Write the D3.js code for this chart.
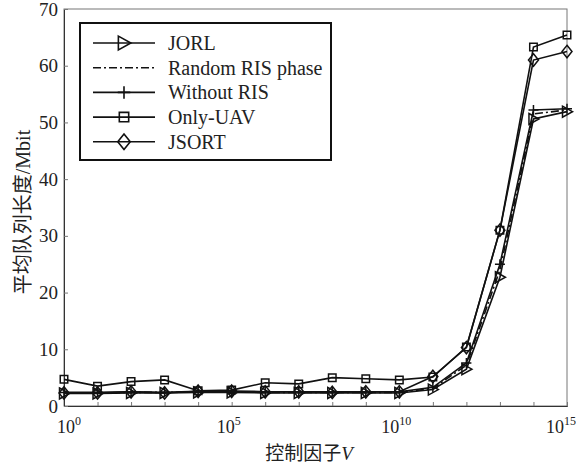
<!DOCTYPE html>
<html>
<head>
<meta charset="utf-8">
<script src="https://cdn.jsdelivr.net/npm/d3@7"></script>
<style>
  body { margin: 0; background: #fff; }
  svg { display: block; }
</style>
</head>
<body>
<div class="chart"></div>
<script>
// x = 10^exponent
const exponents = [0, 1, 2, 3, 4, 5, 6, 7, 8, 9, 10, 11, 12, 13, 14, 15]
const labelExponents = [0, 5, 10, 15]
const yTicks = [0, 10, 20, 30, 40, 50, 60, 70]

const jorl       = [2.2, 2.2, 2.3, 2.3, 2.4, 2.4, 2.3, 2.3, 2.3, 2.3, 2.3, 2.9, 6.5, 22.7, 50.6, 51.9]
const randomRis  = [2.3, 2.3, 2.4, 2.4, 2.5, 2.5, 2.4, 2.4, 2.4, 2.4, 2.4, 3.1, 7.2, 24.0, 51.5, 52.2]
const withoutRis = [2.4, 2.4, 2.5, 2.4, 2.6, 2.6, 2.5, 2.5, 2.5, 2.5, 2.5, 3.3, 7.6, 25.0, 52.2, 52.4]
const onlyUav    = [4.7, 3.5, 4.3, 4.6, 2.7, 2.8, 4.1, 3.9, 5.0, 4.8, 4.6, 5.1, 10.4, 31.0, 63.3, 65.4]
const jsort      = [2.3, 2.3, 2.5, 2.3, 2.6, 2.6, 2.5, 2.5, 2.4, 2.5, 2.5, 5.2, 10.3, 31.0, 61.0, 62.5]

const seriesNames = ['JORL', 'Random RIS phase', 'Without RIS', 'Only-UAV', 'JSORT']
const seriesValues = [jorl, randomRis, withoutRis, onlyUav, jsort]
const seriesMarkers = ['triangle', 'none', 'plus', 'square', 'diamond']

const svgWidth = 576, svgHeight = 473
const plotLeft = 64, plotRight = 567, plotTop = 9, plotBottom = 406
const serif = '"Liberation Serif", "Times New Roman", serif'
const cjk = '"Liberation Serif", "Noto Sans CJK SC", serif'

const svg = d3.select('.chart').append('svg')
              .attr('width', svgWidth)
              .attr('height', svgHeight)

const xScale = d3.scaleLog().domain([1, 1e15]).range([plotLeft, plotRight])
const yScale = d3.scaleLinear().domain([0, 70]).range([plotBottom, plotTop])

// marker paths centred at 0,0
function markerPath(type, s) {
  switch (type) {
    case 'triangle':
      return `M${-s * 0.45},${-s * 0.55}L${s * 0.55},0L${-s * 0.45},${s * 0.55}Z`
    case 'square':
      return `M${-s / 2},${-s / 2}h${s}v${s}h${-s}Z`
    case 'diamond':
      return `M0,${-s * 0.62}L${s * 0.5},0L0,${s * 0.62}L${-s * 0.5},0Z`
    case 'plus':
      return `M0,${-s / 2}V${s / 2}M${-s / 2},0H${s / 2}`
  }
  return ''
}
const markerSize = { triangle: 10, square: 7.5, diamond: 10, plus: 10 }

// frame
svg.append('rect')
   .attr('x', plotLeft).attr('y', plotTop)
   .attr('width', plotRight - plotLeft).attr('height', plotBottom - plotTop)
   .attr('fill', 'none').attr('stroke', '#777').attr('stroke-width', 1)

// x axis (ticks inside, labels drawn separately)
const xAxis = d3.axisBottom(xScale)
                .tickValues(exponents.map(e => Math.pow(10, e)))
                .tickSize(-4)
                .tickFormat('')
svg.append('g')
   .attr('transform', `translate(0, ${plotBottom})`)
   .call(xAxis)
   .call(g => g.select('.domain').attr('stroke', '#333'))
   .call(g => g.selectAll('line').attr('stroke', '#777'))

// first label sits right of its tick, last one is pushed in to stay on the page
const xLabels = svg.append('g')
                   .selectAll('text')
                   .data(labelExponents)
                   .enter()
                   .append('text')
                   .attr('x', (d, i) => {
                     const x = xScale(Math.pow(10, d))
                     if (i === 0) return x - 7
                     if (i === labelExponents.length - 1) return svgWidth
                     return x - 3
                   })
                   .attr('y', 433)
                   .attr('text-anchor', (d, i) => i === 0 ? 'start' : (i === labelExponents.length - 1 ? 'end' : 'middle'))
                   .style('font-family', serif)
                   .style('font-size', '18px')
                   .attr('fill', '#222')
xLabels.append('tspan').text('10')
xLabels.append('tspan')
       .attr('dy', -8)
       .style('font-size', '12px')
       .text(d => d)

// y axis
const yAxis = d3.axisLeft(yScale)
                .tickValues(yTicks)
                .tickSize(-4)
                .tickPadding(6)
svg.append('g')
   .attr('transform', `translate(${plotLeft}, 0)`)
   .call(yAxis)
   .call(g => g.select('.domain').attr('stroke', '#333'))
   .call(g => g.selectAll('line').attr('stroke', '#777'))
   .call(g => g.selectAll('text')
               .style('font-family', serif)
               .style('font-size', '19px')
               .attr('fill', '#222'))

// axis titles
svg.append('text')
   .attr('transform', 'translate(23, 212) rotate(-90)')
   .attr('text-anchor', 'middle')
   .attr('dy', '0.35em')
   .style('font-family', cjk)
   .style('font-size', '20px')
   .attr('fill', '#222')
   .text('平均队列长度/Mbit')

const xTitle = svg.append('text')
                  .attr('x', 309)
                  .attr('y', 460)
                  .attr('text-anchor', 'middle')
                  .style('font-family', cjk)
                  .style('font-size', '19px')
                  .attr('fill', '#222')
xTitle.append('tspan').text('控制因子')
xTitle.append('tspan').style('font-style', 'italic').text('V')

// lines and markers
const line = d3.line()
               .x((d, i) => xScale(Math.pow(10, exponents[i])))
               .y(d => yScale(d))

seriesValues.forEach((vals, k) => {
  svg.append('path')
     .datum(vals)
     .attr('d', line)
     .attr('fill', 'none')
     .attr('stroke', '#111')
     .attr('stroke-width', 1.6)
     .attr('stroke-dasharray', seriesMarkers[k] === 'none' ? '8,3,2,3' : null)

  if (seriesMarkers[k] !== 'none') {
    svg.append('g')
       .selectAll('path')
       .data(vals)
       .enter()
       .append('path')
       .attr('transform', (d, i) => `translate(${xScale(Math.pow(10, exponents[i]))}, ${yScale(d)})`)
       .attr('d', markerPath(seriesMarkers[k], markerSize[seriesMarkers[k]]))
       .attr('fill', 'none')
       .attr('stroke', '#111')
       .attr('stroke-width', 1.5)
  }
})

// legend
svg.append('rect')
   .attr('x', 80).attr('y', 23)
   .attr('width', 251).attr('height', 137)
   .attr('fill', '#fff').attr('stroke', '#111').attr('stroke-width', 2)

const legendItems = svg.append('g')
                       .selectAll('g')
                       .data(seriesNames)
                       .enter()
                       .append('g')
                       .attr('transform', (d, i) => `translate(93, ${43 + i * 24.7})`)

legendItems.append('line')
           .attr('x1', 0).attr('x2', 62)
           .attr('stroke', '#111')
           .attr('stroke-width', 1.6)
           .attr('stroke-dasharray', (d, i) => seriesMarkers[i] === 'none' ? '8,3,2,3' : null)

legendItems.append('path')
           .attr('transform', 'translate(31, 0)')
           .attr('d', (d, i) => markerPath(seriesMarkers[i], markerSize[seriesMarkers[i]] * 1.25))
           .attr('fill', 'none')
           .attr('stroke', '#111')
           .attr('stroke-width', 1.6)

legendItems.append('text')
           .attr('x', 75)
           .attr('dy', '0.35em')
           .style('font-family', serif)
           .style('font-size', '20px')
           .attr('fill', '#222')
           .text(d => d)
</script>
</body>
</html>
